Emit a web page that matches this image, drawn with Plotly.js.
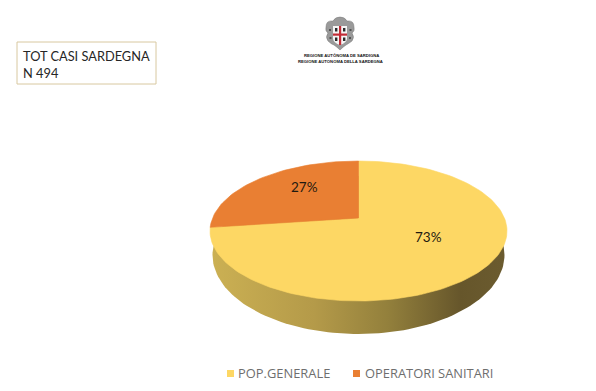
<!DOCTYPE html>
<html><head><meta charset="utf-8">
<script src="https://cdn.plot.ly/plotly-3.0.1.min.js"></script>
<style>html,body{margin:0;padding:0;background:#fff}#c{width:596px;height:391px}</style>
</head><body><div id="c"></div>
<script>
const categories = ['POP.GENERALE', 'OPERATORI SANITARI'];
const shares = [73, 27];
const sliceColors = ['#fdd764', '#e97f33'];
const sideColors = [[0, '#cbb053'], [0.35, '#b49a49'], [0.6, '#93803c'], [0.85, '#66562b'], [1, '#6b5b2f']];
const boxLines = ['TOT CASI SARDEGNA', 'N 494'];
const logoLines = ['REGIONE AUTÒNOMA DE SARDIGNA', 'REGIONE AUTONOMA DELLA SARDEGNA'];

const W = 596, H = 391;
const cx = 358.5, cy = 231, rx = 148.5, ry = 70;
const apexLift = 13 / ry;          // perspective moves the pie centre above the ellipse centre
const perspective = 0.895;         // perspective narrows the back slice's apparent sweep
const side = {cy: 24 / ry, rx: 146 / rx, ry: 79 / ry};

const deg = d => d * Math.PI / 180;
function arc(a0, a1, n, ex, ey, oy) {
  const xs = [], ys = [];
  for (let i = 0; i <= n; i++) {
    const a = deg(a0 + (a1 - a0) * i / n);
    xs.push(ex * Math.cos(a)); ys.push(oy + ey * Math.sin(a));
  }
  return [xs, ys];
}
const backSweep = shares[1] / 100 * 360 * perspective;
const split = 90 + backSweep;

const [sx, sy] = arc(0, 360, 180, side.rx, side.ry, -side.cy);
const [fx, fy] = arc(split, 450, 160, 1, 1, 0);
const [bx, by] = arc(90, split, 50, 1, 1, 0);

const traces = [
  {x: sx, y: sy, mode: 'lines', line: {width: 0}, fill: 'toself',
   fillgradient: {type: 'horizontal', colorscale: sideColors}, hoverinfo: 'skip', showlegend: false},
  {x: fx.concat([0, fx[0]]), y: fy.concat([apexLift, fy[0]]), mode: 'lines', name: categories[0],
   line: {width: 0.6, color: sliceColors[0]}, fill: 'toself', fillcolor: sliceColors[0], showlegend: false},
  {x: bx.concat([0, bx[0]]), y: by.concat([apexLift, by[0]]), mode: 'lines', name: categories[1],
   line: {width: 0.6, color: sliceColors[1]}, fill: 'toself', fillcolor: sliceColors[1], showlegend: false}
];

const px = v => v / W, py = v => 1 - v / H;
const textFont = {family: 'Lato, "Open Sans", sans-serif', size: 12.8, color: '#262626'};
const ann = (x, y, text, font, xanchor) => ({xref: 'paper', yref: 'paper', x: px(x), y: py(y), text, font,
  showarrow: false, xanchor: xanchor || 'left', yanchor: 'middle', borderpad: 0, borderwidth: 0});
const logoFont = {family: '"Liberation Sans", sans-serif', size: 4.2, color: '#111'};
const labelFont = {family: 'Lato, sans-serif', size: 13.5, color: '#1f1a10'};
const legendFont = {family: '"Open Sans", sans-serif', size: 12.9, color: '#6e6e6e'};

const annotations = [
  ann(23, 56, boxLines[0], textFont), ann(23, 73, boxLines[1], textFont),
  ann(341, 55.5, '<b>' + logoLines[0] + '</b>', logoFont, 'center'),
  ann(340, 61, '<b>' + logoLines[1] + '</b>', logoFont, 'center'),
  ann(304, 187, shares[1] + '%', labelFont, 'center'), ann(428, 237, shares[0] + '%', labelFont, 'center'),
  ann(238, 373, categories[0], legendFont), ann(365, 373, categories[1], legendFont)
];
const rect = (x0, y0, x1, y1, fill, line) => ({type: 'rect', xref: 'paper', yref: 'paper',
  x0: px(x0), x1: px(x1), y0: py(y0), y1: py(y1), fillcolor: fill, line: line || {width: 0}});
const crest = pts => pts.map(p => typeof p === 'string' ? p : (p[2] === 0 ? px(p[0]) : px(p[0]) + ' ' + py(p[1]))).join(' ');
const shapes = [
  rect(17, 42, 156, 84, '#fff', {color: '#d8c8a0', width: 1}),
  rect(227, 370, 234, 377, sliceColors[0]), rect(353, 370, 360, 377, sliceColors[1]),
  // regional crest: lobed grey frame, shield, cross and four heads
  {type: 'path', xref: 'paper', yref: 'paper', fillcolor: '#9a9a9a', line: {color: '#777', width: 0.5},
   path: crest(['M', [340, 17], 'Q', [345, 17], [347, 21], 'Q', [354, 20], [354, 27], 'Q', [355, 31], [352, 33],
     'Q', [355, 37], [352, 41], 'Q', [348, 44], [346, 45], 'Q', [343, 47], [340, 50], 'Q', [337, 47], [334, 45],
     'Q', [331, 44], [328, 41], 'Q', [325, 37], [328, 33], 'Q', [325, 31], [326, 27], 'Q', [326, 20], [333, 21],
     'Q', [335, 17], [340, 17], 'Z'])},
  {type: 'path', xref: 'paper', yref: 'paper', fillcolor: '#f5f5f5', line: {width: 0},
   path: crest(['M', [333, 26], 'L', [347, 26], 'L', [347, 39], 'Q', [346, 43], [340, 45], 'Q', [334, 43], [333, 39], 'Z'])},
  rect(339, 26, 341.2, 45, '#c32a35'), rect(333, 33.5, 347, 35.7, '#c32a35'),
  rect(335, 28, 337.4, 31.5, '#2b2b2b'), rect(343, 28, 345.4, 31.5, '#2b2b2b'),
  rect(335, 37.5, 337.4, 41, '#2b2b2b'), rect(343, 37.5, 345.4, 41, '#2b2b2b'),
  rect(329, 29, 331, 31, '#555'), rect(349.5, 29, 351.5, 31, '#555'),
  rect(329.5, 37, 331.5, 39, '#555'), rect(349, 37, 351, 39, '#555')
];

Plotly.newPlot('c', traces, {
  width: W, height: H, margin: {l: 0, r: 0, t: 0, b: 0}, showlegend: false,
  paper_bgcolor: '#fff', plot_bgcolor: '#fff',
  xaxis: {visible: false, range: [(0 - cx) / rx, (W - cx) / rx], fixedrange: true},
  yaxis: {visible: false, range: [(cy - H) / ry, cy / ry], fixedrange: true},
  shapes, annotations
}, {displayModeBar: false, staticPlot: true});
</script></body></html>
